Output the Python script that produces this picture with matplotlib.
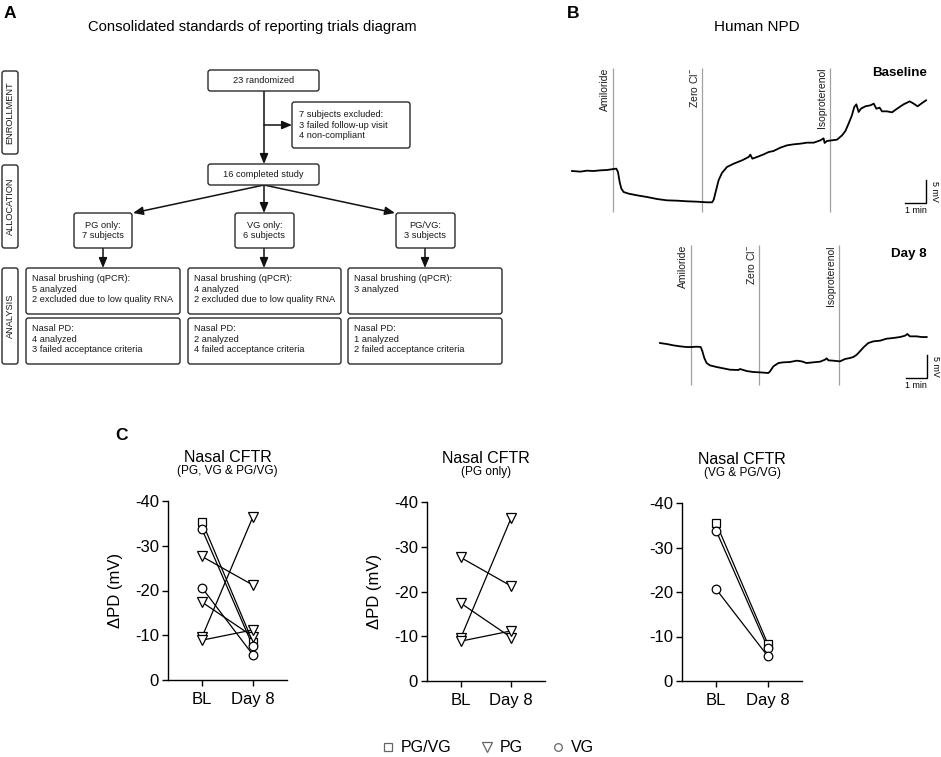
import matplotlib
matplotlib.use('Agg')
import matplotlib.pyplot as plt
from matplotlib.patches import FancyBboxPatch
from matplotlib.lines import Line2D

plt.rcParams['font.family'] = ['Liberation Sans', 'DejaVu Sans']
plt.rcParams['mathtext.fontset'] = 'custom'
plt.rcParams['mathtext.rm'] = 'Liberation Sans'
plt.rcParams['mathtext.bf'] = 'Liberation Sans:bold'
plt.rcParams['mathtext.default'] = 'regular'
plt.rcParams['axes.unicode_minus'] = False

# ======================= DATA =======================
# Panel A: CONSORT diagram
stages = ["ENROLLMENT", "ALLOCATION", "ANALYSIS"]
randomized_n = 23
excluded_lines = ["7 subjects excluded:", "3 failed follow-up visit", "4 non-compliant"]
completed_n = 16
group_names = ["PG only:", "VG only:", "PG/VG:"]
group_n = [7, 6, 3]
brush_analyzed = [5, 4, 3]
brush_excluded = [2, 2, 0]
npd_analyzed = [4, 2, 1]
npd_failed = [3, 4, 2]

# Panel B: NPD traces (time in min, relative PD in mV)
solutions = ["Amiloride", "Zero Cl$^{-}$", "Isoproterenol"]
baseline_sol_t = [1.95, 6.19, 12.27]
day8_sol_t = [5.67, 8.90, 12.73]
baseline_t = [0.00, 0.40, 0.71, 1.03, 1.35, 1.67, 1.98, 2.11, 2.19, 2.27, 2.35, 2.46,
              2.70, 3.10, 3.57, 4.05, 4.52, 5.00, 5.48, 5.95, 6.43, 6.67, 6.75, 6.84,
              6.98, 7.14, 7.38, 7.70, 8.10, 8.41, 8.49, 8.59, 8.81, 9.13, 9.37, 9.60,
              9.92, 10.24, 10.56, 10.87, 11.19, 11.51, 11.83, 11.98, 12.03, 12.14, 12.38,
              12.62, 12.86, 13.02, 13.17, 13.33, 13.44, 13.54, 13.65, 13.76, 13.97, 14.21,
              14.37, 14.49, 14.65, 14.76, 15.00, 15.24, 15.48, 15.79, 16.08, 16.27, 16.46,
              16.67, 16.86]
baseline_mv = [0.00, -0.14, 0.07, 0.00, 0.14, 0.22, 0.43, 0.51, -0.22, -2.39, -3.84, -4.57,
               -4.93, -5.29, -5.65, -6.09, -6.38, -6.45, -6.59, -6.67, -6.81, -6.81, -6.23, -4.57,
               -2.03, -0.43, 0.87, 1.59, 2.32, 3.04, 3.55, 2.68, 3.04, 3.62, 4.13, 4.35,
               5.07, 5.58, 5.80, 5.94, 6.16, 6.16, 6.67, 7.10, 6.09, 6.52, 6.67,
               6.81, 7.75, 8.70, 10.29, 12.10, 13.91, 14.49, 12.83, 13.55, 14.06, 14.28,
               14.64, 13.55, 13.77, 12.97, 12.97, 12.75, 13.55, 14.49, 15.14, 14.64, 14.06,
               14.78, 15.36]
day8_t = [4.19, 4.51, 4.83, 5.14, 5.46, 5.70, 5.94, 6.13, 6.21, 6.30, 6.41, 6.57, 6.89,
          7.21, 7.52, 7.92, 8.00, 8.32, 8.63, 8.95, 9.35, 9.43, 9.59, 9.83, 10.06, 10.38,
          10.70, 10.94, 11.17, 11.49, 11.81, 12.05, 12.13, 12.21, 12.44, 12.76, 13.00,
          13.24, 13.40, 13.56, 13.71, 13.90, 14.11, 14.35, 14.67, 14.98, 15.30, 15.62,
          15.86, 15.97, 16.09, 16.41, 16.65, 16.89]
day8_mv = [0.00, -0.22, -0.51, -0.72, -0.87, -0.87, -0.80, -0.87, -1.81, -3.26, -4.35, -4.86,
           -5.22, -5.51, -5.80, -5.87, -5.65, -6.09, -6.30, -6.38, -6.52, -6.16, -5.07, -4.35,
           -4.20, -4.13, -3.84, -3.99, -4.35, -4.20, -4.06, -3.62, -3.33, -3.77, -3.84, -3.99,
           -3.48, -3.26, -3.04, -2.54, -1.81, -0.87, 0.00, 0.36, 0.51, 0.94, 1.09, 1.30,
           1.59, 1.96, 1.45, 1.45, 1.30, 1.30]
scale_min = 1
scale_mv = 5

# Panel C: delta PD (mV), BL vs Day 8
timepoints = ["BL", "Day 8"]
pgvg_bl = [-35.4]
pgvg_d8 = [-8.4]
pg_bl = [-27.6, -17.4, -9.6, -8.9]
pg_d8 = [-21.2, -9.7, -36.5, -11.2]
vg_bl = [-33.7, -20.6]
vg_d8 = [-7.5, -5.6]
yticks_c = [0, -10, -20, -30, -40]

# ======================= LAYOUT =======================
W, H = 941, 757
fig = plt.figure(figsize=(W / 100, H / 100), dpi=100)


def fbox(x0, y0, x1, y1):
    return [x0 / W, 1 - y1 / H, (x1 - x0) / W, (y1 - y0) / H]


ov = fig.add_axes([0, 0, 1, 1])
ov.set_xlim(0, W)
ov.set_ylim(H, 0)
ov.axis('off')

TXT = '#1a1a1a'
EC = '#2a2a2a'
fs_box = 6.7


def box(x0, y0, x1, y1):
    ov.add_patch(FancyBboxPatch((x0, y0), x1 - x0, y1 - y0,
                                boxstyle="round,pad=0,rounding_size=2.5",
                                fc='white', ec=EC, lw=1.0, zorder=2))


def arrow(x0, y0, x1, y1):
    ov.annotate('', xy=(x1, y1), xytext=(x0, y0),
                arrowprops=dict(arrowstyle='-|>,head_length=0.6,head_width=0.25',
                                color='#111111', lw=1.1, shrinkA=0, shrinkB=0,
                                mutation_scale=10), zorder=1)


# Panel letters / titles
ov.text(4, 13, 'A', fontsize=12.5, fontweight='bold', va='center', ha='left')
ov.text(567, 13, 'B', fontsize=12.5, fontweight='bold', va='center', ha='left')
ov.text(115, 435, 'C', fontsize=12.5, fontweight='bold', va='center', ha='left')
ov.text(252, 27, 'Consolidated standards of reporting trials diagram', fontsize=10.6,
        ha='center', va='center')
ov.text(757, 27, 'Human NPD', fontsize=11, ha='center', va='center')

# stage side labels
stage_boxes = [(2, 71, 18, 154), (2, 165, 18, 248), (2, 268, 18, 364)]
for name, (x0, y0, x1, y1) in zip(stages, stage_boxes):
    box(x0, y0, x1, y1)
    ov.text((x0 + x1) / 2, (y0 + y1) / 2, name, rotation=90, fontsize=6.7,
            ha='center', va='center', color=TXT, zorder=3)

# enrollment
box(208, 70, 319, 91)
ov.text(263.5, 80.5, f"{randomized_n} randomized", fontsize=fs_box, ha='center', va='center', color=TXT, zorder=3)
box(292, 102, 410, 148)
ov.text(299, 125, "\n".join(excluded_lines), fontsize=fs_box, ha='left', va='center',
        color=TXT, linespacing=1.25, zorder=3)
arrow(264, 91, 264, 164)
arrow(264, 125, 292, 125)
box(208, 164, 319, 185)
ov.text(263.5, 174.5, f"{completed_n} completed study", fontsize=fs_box, ha='center', va='center', color=TXT, zorder=3)

# allocation
group_boxes = [(74, 213, 132, 248), (235, 213, 294, 248), (396, 213, 455, 248)]
arrow_tips = [(133, 213), (264, 213), (395, 213)]
for gname, n, (x0, y0, x1, y1), tip in zip(group_names, group_n, group_boxes, arrow_tips):
    box(x0, y0, x1, y1)
    ov.text((x0 + x1) / 2, (y0 + y1) / 2, f"{gname}\n{n} subjects", fontsize=fs_box,
            ha='center', va='center', color=TXT, linespacing=1.25, zorder=3)
    arrow(264, 185, tip[0], tip[1])

# analysis
an_x = [(26, 180), (188, 341), (348, 502)]
down_x = [103, 264, 425]
for i in range(3):
    x0, x1 = an_x[i]
    arrow(down_x[i], 248, down_x[i], 268)
    box(x0, 268, x1, 314)
    lines = ["Nasal brushing (qPCR):", f"{brush_analyzed[i]} analyzed"]
    if brush_excluded[i] > 0:
        lines.append(f"{brush_excluded[i]} excluded due to low quality RNA")
    ov.text(x0 + 6, 274, "\n".join(lines), fontsize=fs_box, ha='left', va='top',
            color=TXT, linespacing=1.25, zorder=3)
    box(x0, 318, x1, 364)
    lines2 = ["Nasal PD:", f"{npd_analyzed[i]} analyzed", f"{npd_failed[i]} failed acceptance criteria"]
    ov.text(x0 + 6, 324, "\n".join(lines2), fontsize=fs_box, ha='left', va='top',
            color=TXT, linespacing=1.25, zorder=3)

# ======================= Panel B traces =======================
def trace_panel(rect, ylim, t, mv, sol_t, line_lo, line_hi, bar_v, label, label_y):
    ax = fig.add_axes(fbox(*rect))
    ax.set_xlim(-0.571, 17.524)
    ax.set_ylim(*ylim)
    ax.axis('off')
    ax.vlines(sol_t, line_lo, line_hi, color='#a0a0a0', lw=0.9)
    for st, name in zip(sol_t, solutions):
        ax.annotate(name, xy=(st, line_hi), xytext=(-5.8, 0), textcoords='offset points',
                    rotation=90, ha='center', va='top', fontsize=7.5, color=TXT)
    ax.plot(t, mv, color='black', lw=1.3)
    tx = t[-1]
    ax.plot([tx - scale_min, tx, tx], [bar_v, bar_v, bar_v + scale_mv], color='black', lw=1.0,
            solid_joinstyle='miter')
    ax.annotate(f"{scale_min} min", xy=(tx - scale_min / 2, bar_v), xytext=(0, -2),
                textcoords='offset points', ha='center', va='top', fontsize=6.4)
    ax.annotate(f"{scale_mv} mV", xy=(tx, bar_v + scale_mv / 2), xytext=(3, 0),
                textcoords='offset points', ha='left', va='center', rotation=270, fontsize=6.4)
    ov.text(927, label_y, label, fontsize=9.6, fontweight='bold', ha='right', va='center')
    return ax


trace_panel((560, 60, 940, 225), (-11.74, 24.13), baseline_t, baseline_mv, baseline_sol_t,
            -8.91, 22.4, -6.96, 'Baseline', 73)
trace_panel((560, 235, 940, 395), (-11.30, 23.48), day8_t, day8_mv, day8_sol_t,
            -9.13, 21.3, -7.61, 'Day 8', 254)

# ======================= Panel C =======================
panel_rects = [(168, 501, 287, 680), (427, 502, 545, 681), (682, 503, 802, 681)]
subtitles = ["(PG, VG & PG/VG)", "(PG only)", "(VG & PG/VG)"]
groups_in_panel = [["pgvg", "pg", "vg"], ["pg"], ["pgvg", "vg"]]
group_data = {"pgvg": (pgvg_bl, pgvg_d8, 's', 6.0),
              "pg": (pg_bl, pg_d8, 'v', 7.5),
              "vg": (vg_bl, vg_d8, 'o', 6.2)}

for k, (rect, sub, gl) in enumerate(zip(panel_rects, subtitles, groups_in_panel)):
    ax = fig.add_axes(fbox(*rect))
    ax.set_xlim(-0.667, 1.667)
    ax.set_ylim(0, -40)
    for s in ['top', 'right']:
        ax.spines[s].set_visible(False)
    for s in ['left', 'bottom']:
        ax.spines[s].set_linewidth(1.0)
    ax.set_yticks(yticks_c)
    ax.set_yticklabels([str(v) for v in yticks_c])
    ax.set_xticks([0, 1])
    ax.set_xticklabels(timepoints)
    ax.tick_params(axis='both', labelsize=12, length=4.5, width=1.0, direction='out')
    ax.tick_params(axis='x', pad=4)
    ax.tick_params(axis='y', pad=2)
    for g in gl:
        bl, d8, mk, ms = group_data[g]
        for a, b in zip(bl, d8):
            ax.plot([0, 1], [a, b], color='black', lw=0.9, zorder=2, clip_on=False)
    for g in gl:
        bl, d8, mk, ms = group_data[g]
        ax.plot([0] * len(bl), bl, ls='none', marker=mk, ms=ms, mfc='white', mec='black',
                mew=0.9, zorder=3, clip_on=False)
        ax.plot([1] * len(d8), d8, ls='none', marker=mk, ms=ms, mfc='white', mec='black',
                mew=0.9, zorder=3, clip_on=False)
    ax.annotate("Nasal CFTR", xy=(0.5, 1), xycoords='axes fraction', xytext=(0, 31.5),
                textcoords='offset points', ha='center', va='center', fontsize=11.5)
    ax.annotate(sub, xy=(0.5, 1), xycoords='axes fraction', xytext=(0, 21.5),
                textcoords='offset points', ha='center', va='center', fontsize=8.5)
    if k < 2:
        ax.text(-0.445, 0.5, "ΔPD (mV)", transform=ax.transAxes, rotation=90,
                ha='center', va='center', fontsize=12)

handles = [Line2D([], [], ls='none', marker='s', ms=5.5, mfc='white', mec='#666666', mew=0.9),
           Line2D([], [], ls='none', marker='v', ms=6.5, mfc='white', mec='#666666', mew=0.9),
           Line2D([], [], ls='none', marker='o', ms=5.5, mfc='white', mec='#666666', mew=0.9)]
fig.legend(handles, ["PG/VG", "PG", "VG"], loc='center', bbox_to_anchor=(0.519, 1 - 748 / H),
           ncol=3, frameon=False, fontsize=11.5, handlelength=0.6, handletextpad=0.5,
           columnspacing=1.9)

fig.savefig('out.png', dpi=100, facecolor='white')
